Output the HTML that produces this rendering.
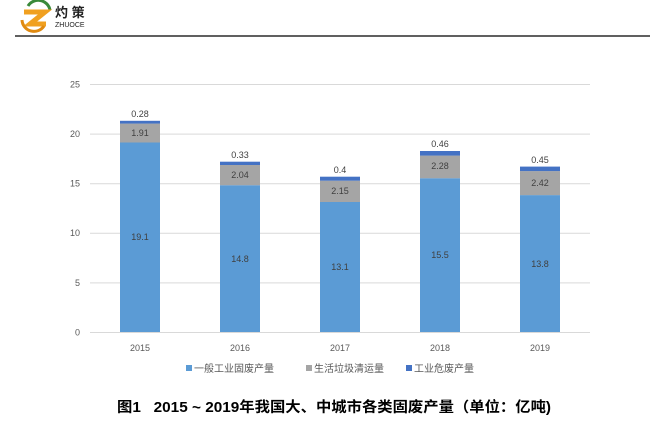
<!DOCTYPE html>
<html><head><meta charset="utf-8"><style>
body{margin:0;background:#fff;width:663px;height:444px;overflow:hidden;}
svg{display:block;font-family:"Liberation Sans","Noto Sans CJK SC",sans-serif;}
</style></head><body>
<svg width="663" height="444" viewBox="0 0 663 444">
<g>
<path d="M28 6 A12 12 0 0 1 50 10" stroke="#3a8a3a" stroke-width="3" fill="none"/>
<path d="M24 12 L45 12 L30 24 L46 24" stroke="#f0a020" stroke-width="5" fill="none"/>
<path d="M22 20 A12 12 0 0 0 44 26" stroke="#e08a10" stroke-width="3" fill="none"/>
<text x="55" y="17" font-size="13" font-weight="bold" fill="#222">灼 策</text>
<text x="55" y="27" font-size="7" fill="#222">ZHUOCE</text>
</g>
<line x1="15" y1="36" x2="650" y2="36" stroke="#000" stroke-width="1.2"/>
<g stroke="#d9d9d9" stroke-width="1">
<line x1="90" y1="84.5" x2="590" y2="84.5"/>
<line x1="90" y1="134.1" x2="590" y2="134.1"/>
<line x1="90" y1="183.7" x2="590" y2="183.7"/>
<line x1="90" y1="233.3" x2="590" y2="233.3"/>
<line x1="90" y1="282.9" x2="590" y2="282.9"/>
<line x1="90" y1="332.5" x2="590" y2="332.5"/>
</g>
<g font-size="9" fill="#595959" text-anchor="end">
<text x="80" y="87.5">25</text><text x="80" y="137">20</text><text x="80" y="186.5">15</text>
<text x="80" y="236">10</text><text x="80" y="286">5</text><text x="80" y="335.5">0</text>
</g>
<g>
<rect x="120" y="142.5" width="40" height="189.5" fill="#5b9bd5"/>
<rect x="120" y="123.6" width="40" height="18.9" fill="#a5a5a5"/>
<rect x="120" y="120.8" width="40" height="2.8" fill="#4472c4"/>
<rect x="220" y="185.2" width="40" height="146.8" fill="#5b9bd5"/>
<rect x="220" y="165" width="40" height="20.2" fill="#a5a5a5"/>
<rect x="220" y="161.7" width="40" height="3.3" fill="#4472c4"/>
<rect x="320" y="202" width="40" height="130" fill="#5b9bd5"/>
<rect x="320" y="180.7" width="40" height="21.3" fill="#a5a5a5"/>
<rect x="320" y="176.7" width="40" height="4" fill="#4472c4"/>
<rect x="420" y="178.2" width="40" height="153.8" fill="#5b9bd5"/>
<rect x="420" y="155.6" width="40" height="22.6" fill="#a5a5a5"/>
<rect x="420" y="151" width="40" height="4.6" fill="#4472c4"/>
<rect x="520" y="195.1" width="40" height="136.9" fill="#5b9bd5"/>
<rect x="520" y="171.1" width="40" height="24" fill="#a5a5a5"/>
<rect x="520" y="166.6" width="40" height="4.5" fill="#4472c4"/>
</g>
<g font-size="9" fill="#404040" text-anchor="middle">
<text x="140" y="240">19.1</text><text x="140" y="136">1.91</text><text x="140" y="117">0.28</text>
<text x="240" y="262">14.8</text><text x="240" y="178">2.04</text><text x="240" y="158">0.33</text>
<text x="340" y="270">13.1</text><text x="340" y="194">2.15</text><text x="340" y="173">0.4</text>
<text x="440" y="258">15.5</text><text x="440" y="169">2.28</text><text x="440" y="147">0.46</text>
<text x="540" y="267">13.8</text><text x="540" y="186">2.42</text><text x="540" y="163">0.45</text>
</g>
<g font-size="9" fill="#595959" text-anchor="middle">
<text x="140" y="351">2015</text><text x="240" y="351">2016</text><text x="340" y="351">2017</text>
<text x="440" y="351">2018</text><text x="540" y="351">2019</text>
</g>
<g font-size="10" fill="#595959">
<rect x="186" y="365" width="6" height="6" fill="#5b9bd5"/><text x="194" y="372">一般工业固废产量</text>
<rect x="306" y="365" width="6" height="6" fill="#a5a5a5"/><text x="314" y="372">生活垃圾清运量</text>
<rect x="406" y="365" width="6" height="6" fill="#4472c4"/><text x="414" y="372">工业危废产量</text>
</g>
<text x="117" y="412" font-size="14.5" font-weight="bold" fill="#000" textLength="434" lengthAdjust="spacingAndGlyphs" style="white-space:pre">图1   2015 ~ 2019年我国大、中城市各类固废产量（单位：亿吨)</text>
</svg>
</body></html>
